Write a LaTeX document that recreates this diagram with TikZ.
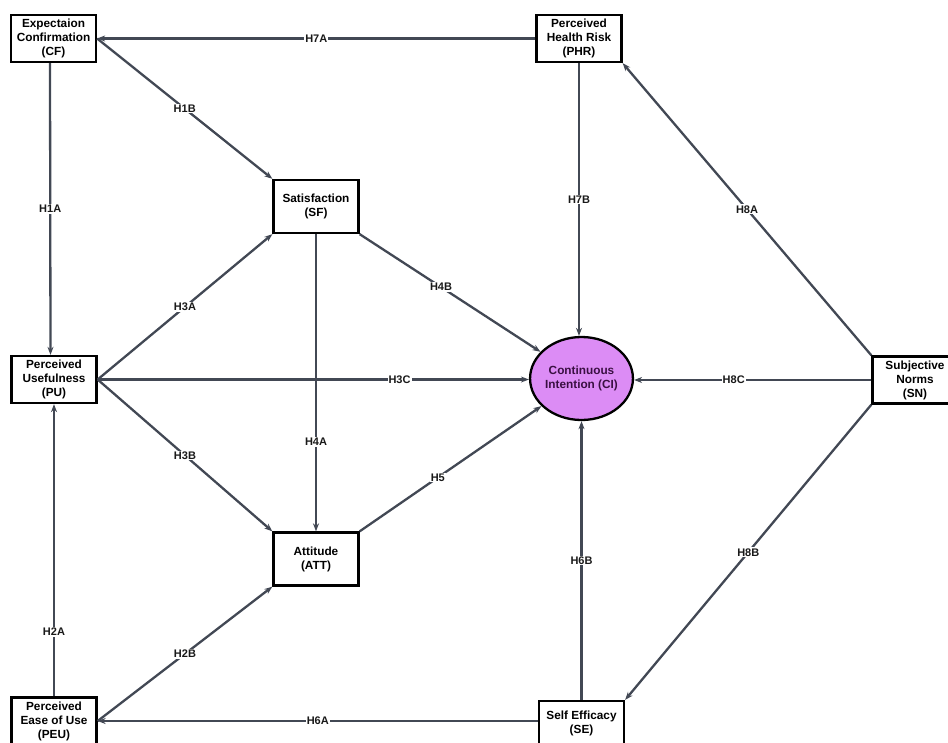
\documentclass[tikz,border=0pt]{standalone}
\usepackage{fontspec}
\setmainfont{Liberation Sans}
\usetikzlibrary{arrows.meta,shapes.geometric}
\definecolor{edgec}{HTML}{424854}
\definecolor{cifill}{HTML}{DC8CF5}
\definecolor{citext}{HTML}{3A1042}
\begin{document}
\begin{tikzpicture}[x=1pt,y=-1pt,
  box/.style={draw=black,line width=2.3pt,fill=white,align=center,font=\fontsize{11.8}{14}\selectfont\bfseries,inner sep=1pt,minimum width=85pt,minimum height=47pt},
  bigbox/.style={box,minimum height=53pt},
  edge/.style={draw=edgec,line width=2.3pt,-{Stealth[length=8pt,width=6pt]}},
  lbl/.style={fill=white,font=\fontsize{11}{12}\selectfont\bfseries,inner sep=1pt,text=black!90}]
\useasboundingbox (0,0) rectangle (948,742);
\node[box] (CF) at (53.5,38.5) {Expectaion\\Confirmation\\(CF)};
\node[box] (PHR) at (579,38.5) {Perceived\\Health Risk\\(PHR)};
\node[bigbox] (SF) at (316,206.5) {Satisfaction\\(SF)};
\node[bigbox] (ATT) at (316,559) {Attitude\\(ATT)};
\node[box] (PU) at (54,379.5) {Perceived\\Usefulness\\(PU)};
\node[box] (PEU) at (54,721) {Perceived\\Ease of Use\\(PEU)};
\node[box,minimum height=44pt] (SE) at (581.5,723) {Self Efficacy\\(SE)};
\node[box] (SN) at (915,380) {Subjective\\Norms\\(SN)};
\node[ellipse,draw=black,line width=2.3pt,fill=cifill,minimum width=91pt,minimum height=83pt,inner sep=0pt,align=center,font=\fontsize{11.8}{14}\selectfont\bfseries,text=citext] (CI) at (581.5,378.5) {Continuous\\Intention (CI)};

\draw[edge] (PHR.west) -- node[lbl] {H7A} (CF.east);
\draw[edge] (CF.east) -- node[lbl] {H1B} (SF.north west);
\draw[edge] ([xshift=-3.5pt]CF.south) -- node[lbl] {H1A} ([xshift=-3.5pt]PU.north);
\draw[edge] (PU.east) -- node[lbl] {H3A} (SF.south west);
\draw[edge] (PU.east) -- node[lbl,pos=0.7] {H3C} (PU.east-|CI.west);
\draw[edge] (PU.east) -- node[lbl] {H3B} (ATT.north west);
\draw[edge] (PEU.north) -- node[lbl,pos=0.22] {H2A} (PU.south);
\draw[edge] (PEU.east) -- node[lbl] {H2B} (ATT.south west);
\draw[edge] (SE.west|-PEU.east) -- node[lbl] {H6A} (PEU.east);
\draw[edge] (SF.south) -- node[lbl,pos=0.7] {H4A} (ATT.north);
\draw[edge] (SF.south east) -- node[lbl,pos=0.45] {H4B} (CI);
\draw[edge] (ATT.north east) -- node[lbl,pos=0.43] {H5} (CI);
\draw[edge] (PHR.south) -- node[lbl] {H7B} (PHR.south|-CI.north);
\draw[edge] (SE.north-|CI.south) -- node[lbl] {H6B} (CI.south);
\draw[edge] (SN.north west) -- node[lbl] {H8A} (PHR.south east);
\draw[edge] (SN.west) -- node[lbl,pos=0.58] {H8C} (SN.west-|CI.east);
\draw[edge] (SN.south west) -- node[lbl] {H8B} (SE.north east);
\end{tikzpicture}
\end{document}
